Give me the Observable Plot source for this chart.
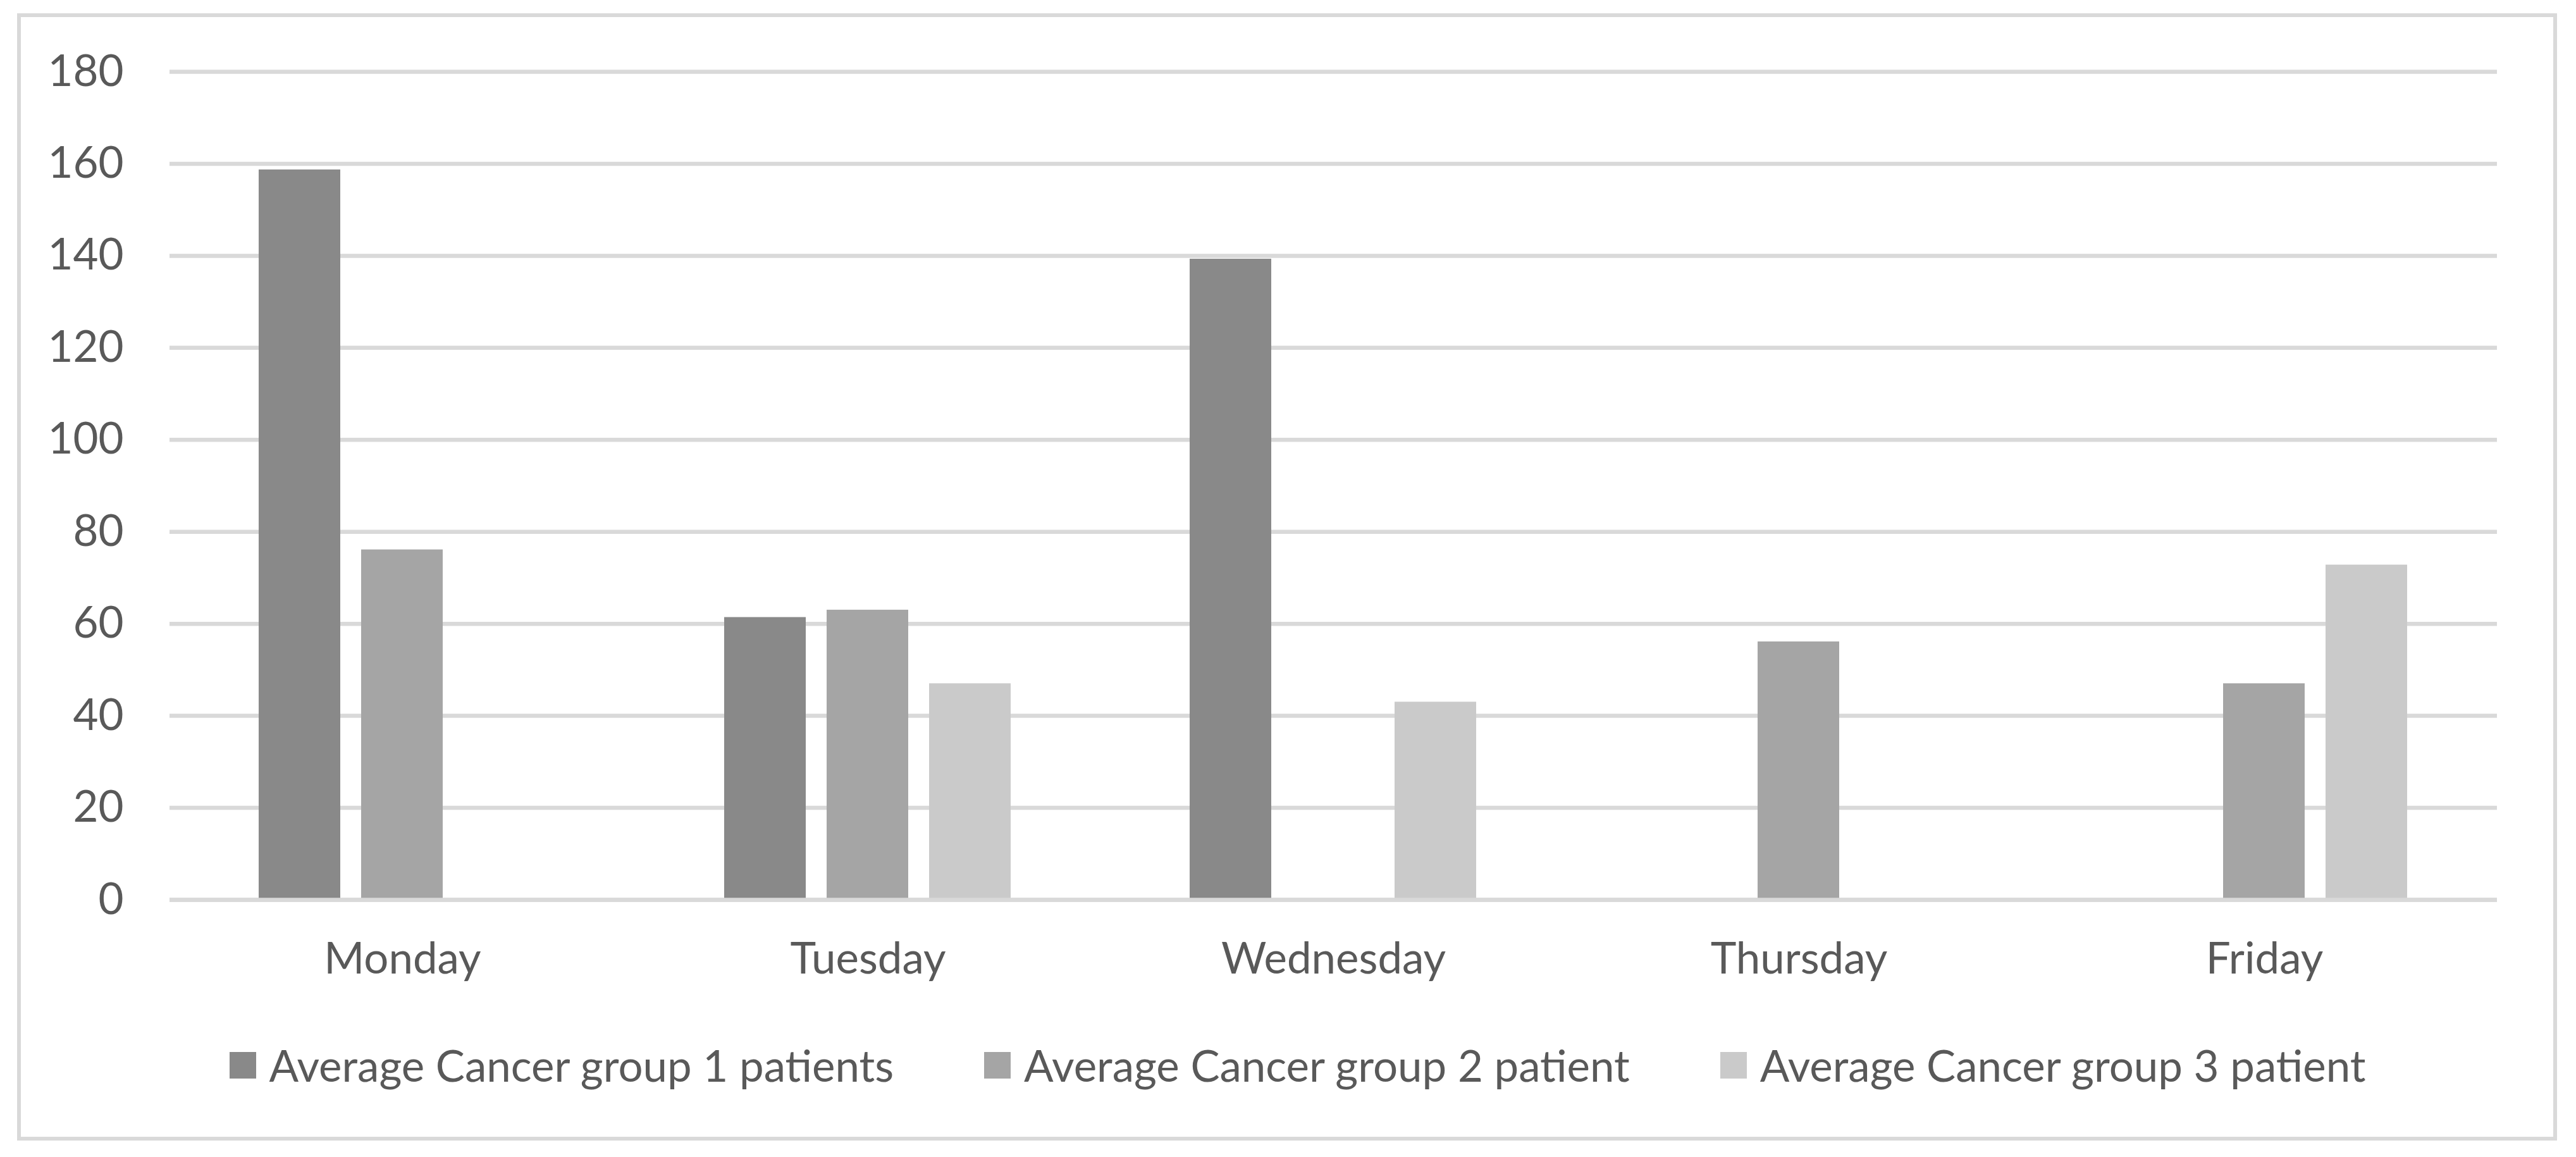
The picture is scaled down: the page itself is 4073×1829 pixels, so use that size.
<!DOCTYPE html>
<html>
<head>
<meta charset="utf-8">
<script src="https://cdn.jsdelivr.net/npm/d3@7"></script>
<script src="https://cdn.jsdelivr.net/npm/@observablehq/plot@0.6"></script>
<style>
  html, body { margin: 0; padding: 0; background: #ffffff; }
  body { width: 4073px; height: 1829px; position: relative; overflow: hidden; font-family: Lato, "Open Sans", sans-serif; }
  #frame { position: absolute; left: 27px; top: 21px; width: 4016px; height: 1782px; box-sizing: border-box; border: 6px solid #d9d9d9; pointer-events: none; }
  #chart { position: absolute; left: 0; top: 0; }
  #legend { position: absolute; left: 30px; top: 1642px; width: 4043px; display: flex; justify-content: center; }
  #legend .lg-swatches { font-family: Lato, "Open Sans", sans-serif !important; font-size: 69px !important; color: #595959 !important; justify-content: center; min-height: 0 !important; margin: 0 !important; }
  #legend .lg-swatch { margin-right: 143px !important; }
  #legend .lg-swatch:last-child { margin-right: 0 !important; }
  #legend .lg-swatch > svg { margin-right: 21px !important; }
</style>
</head>
<body>
<div id="chart"></div>
<div id="legend"></div>
<div id="frame"></div>
<script>
const days = ["Monday", "Tuesday", "Wednesday", "Thursday", "Friday"];
const groups = ["Average Cancer group 1 patients", "Average Cancer group 2 patient", "Average Cancer group 3 patient"];
const group1 = [158.7, 61.4, 139.3, null, null];
const group2 = [76.1, 63.0, null, 56.1, 47.0];
const group3 = [null, 47.0, 43.0, null, 72.8];
const yTicks = [0, 20, 40, 60, 80, 100, 120, 140, 160, 180];
const colors = ["#898989", "#a5a5a5", "#cacaca"];

const series = [group1, group2, group3];
const data = [];
days.forEach((d, i) => {
  series.forEach((s, j) => {
    if (s[i] != null) data.push({day: d, group: groups[j], value: s[i]});
  });
});

const chart = Plot.plot({
  width: 4073,
  height: 1560,
  marginLeft: 267,
  marginRight: 124,
  marginTop: 113,
  marginBottom: 138,
  style: {fontFamily: "Lato, 'Open Sans', sans-serif", fontSize: "69px", color: "#595959", background: "transparent", overflow: "visible"},
  fx: {domain: days, padding: 0, label: null, tickSize: 0, tickPadding: 67, axis: "bottom"},
  x: {domain: groups, paddingInner: 0.2025, paddingOuter: 0.86, axis: null},
  y: {domain: [0, 180], ticks: yTicks, tickSize: 0, tickPadding: 73, label: null},
  color: {domain: groups, range: colors},
  marks: [
    Plot.ruleY(yTicks, {stroke: "#d9d9d9", strokeWidth: 6.5}),
    Plot.barY(data, {fx: "day", x: "group", y: "value", fill: "group"}),
    Plot.ruleY([0], {stroke: "#d9d9d9", strokeWidth: 6.5})
  ]
});
document.getElementById("chart").appendChild(chart);

const legend = Plot.legend({
  color: {domain: groups, range: colors, type: "ordinal"},
  legend: "swatches",
  swatchSize: 42,
  className: "lg"
});
document.getElementById("legend").appendChild(legend);
</script>
</body>
</html>
